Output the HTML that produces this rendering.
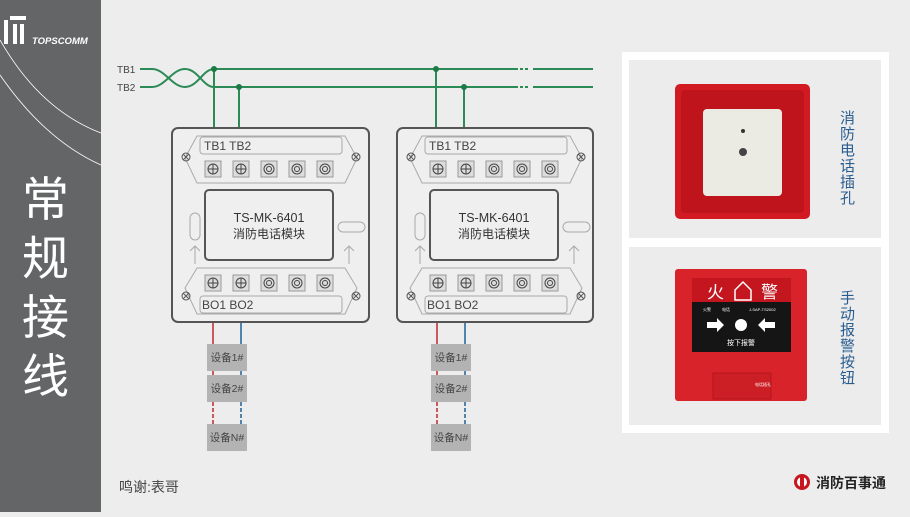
<!DOCTYPE html>
<html><head><meta charset="utf-8"><style>
body{margin:0;width:910px;height:512px;overflow:hidden;background:#ededee;font-family:"Liberation Sans","Noto Sans CJK SC",sans-serif;}
</style></head><body>
<svg width="910" height="512" viewBox="0 0 910 512" xmlns="http://www.w3.org/2000/svg" font-family="Liberation Sans, Noto Sans CJK SC, sans-serif">
<rect width="910" height="512" fill="#ededee"/>
<rect width="101" height="512" fill="#646567"/>
<path d="M0,40 Q40,110 101,133" stroke="#fff" stroke-width="0.8" fill="none"/>
<path d="M0,75 Q45,140 101,165" stroke="#fff" stroke-width="0.8" fill="none"/>
<rect x="4" y="20" width="4" height="24" fill="#fff"/><rect x="10" y="16" width="16" height="4" fill="#fff"/><rect x="13" y="24" width="4" height="20" fill="#fff"/><rect x="20" y="24" width="4" height="20" fill="#fff"/>
<text x="32" y="44" font-size="9.5" fill="#fff" font-weight="bold" font-style="italic">TOPSCOMM</text>
<text font-size="47" fill="#fff" font-family="Noto Sans CJK SC, sans-serif"><tspan x="22" y="216">常</tspan><tspan x="22" y="275">规</tspan><tspan x="22" y="334">接</tspan><tspan x="22" y="393">线</tspan></text>
<text x="117" y="73" font-size="10" fill="#444">TB1</text>
<text x="117" y="91" font-size="10" fill="#444">TB2</text>
<g stroke="#2b8a55" stroke-width="2" fill="none">
<path d="M140,69 H152 C165,69 172,87 185,87 C198,87 203,69 214,69 H518"/>
<path d="M140,87 H152 C165,87 172,69 185,69 C198,69 203,87 214,87 H518"/>
<path d="M533,69 H593 M533,87 H593 M520,69 h3 M525,69 h3 M520,87 h3 M525,87 h3"/>
<path d="M214,69 V128 M239,87 V128 M436,69 V128 M464,87 V128"/>
</g>
<g fill="#1d7a45"><circle cx="214" cy="69" r="3"/><circle cx="239" cy="87" r="3"/><circle cx="436" cy="69" r="3"/><circle cx="464" cy="87" r="3"/></g>

<!-- module 1 -->
<g transform="translate(172,128)">
<rect x="0" y="0" width="197" height="194" rx="6" fill="#efeff0" stroke="#555" stroke-width="2"/>
<polygon points="13,30 25,8 173,8 185,30 173,55 25,55" fill="none" stroke="#aaa"/>
<rect x="28" y="9" width="142" height="17" rx="3" fill="none" stroke="#aaa"/>
<text x="32" y="22" font-size="12" fill="#444">TB1 TB2</text>
<polygon points="13,160 25,140 173,140 185,160 173,186 25,186" fill="none" stroke="#aaa"/>
<rect x="28" y="168" width="142" height="17" rx="3" fill="none" stroke="#aaa"/>
<text x="30" y="181" font-size="12" fill="#444">BO1 BO2</text>
<g stroke="#555" fill="none" stroke-width="1">
<circle cx="14" cy="29" r="4"/><path d="M11,26l6,6M17,26l-6,6"/>
<circle cx="184" cy="29" r="4"/><path d="M181,26l6,6M187,26l-6,6"/>
<circle cx="14" cy="168" r="4"/><path d="M11,165l6,6M17,165l-6,6"/>
<circle cx="184" cy="168" r="4"/><path d="M181,165l6,6M187,165l-6,6"/>
</g>
<g fill="#ddd" stroke="#999">
<rect x="33" y="33" width="16" height="16"/><rect x="61" y="33" width="16" height="16"/><rect x="89" y="33" width="16" height="16"/><rect x="117" y="33" width="16" height="16"/><rect x="145" y="33" width="16" height="16"/>
<rect x="33" y="147" width="16" height="16"/><rect x="61" y="147" width="16" height="16"/><rect x="89" y="147" width="16" height="16"/><rect x="117" y="147" width="16" height="16"/><rect x="145" y="147" width="16" height="16"/>
</g>
<g fill="none" stroke="#444">
<circle cx="41" cy="41" r="5"/><path d="M36,41h10M41,36v10"/><circle cx="69" cy="41" r="5"/><path d="M64,41h10M69,36v10"/>
<circle cx="97" cy="41" r="5"/><circle cx="97" cy="41" r="2.5"/><circle cx="125" cy="41" r="5"/><circle cx="125" cy="41" r="2.5"/><circle cx="153" cy="41" r="5"/><circle cx="153" cy="41" r="2.5"/>
<circle cx="41" cy="155" r="5"/><path d="M36,155h10M41,150v10"/><circle cx="69" cy="155" r="5"/><path d="M64,155h10M69,150v10"/>
<circle cx="97" cy="155" r="5"/><circle cx="97" cy="155" r="2.5"/><circle cx="125" cy="155" r="5"/><circle cx="125" cy="155" r="2.5"/><circle cx="153" cy="155" r="5"/><circle cx="153" cy="155" r="2.5"/>
</g>
<rect x="33" y="62" width="128" height="70" rx="4" fill="#efeff0" stroke="#555" stroke-width="2"/>
<text x="97" y="94" font-size="12.5" fill="#333" text-anchor="middle">TS-MK-6401</text>
<text x="97" y="110" font-size="12" fill="#333" text-anchor="middle">消防电话模块</text>
<rect x="18" y="85" width="10" height="27" rx="5" fill="none" stroke="#aaa"/>
<rect x="166" y="94" width="27" height="10" rx="5" fill="none" stroke="#aaa"/>
<path d="M23,136 v-18 M18,123 l5,-5 l5,5 M177,136 v-18 M172,123 l5,-5 l5,5" stroke="#aaa" fill="none"/>
</g>

<!-- module 2 -->
<g transform="translate(397,128)">
<rect x="0" y="0" width="196" height="194" rx="6" fill="#efeff0" stroke="#555" stroke-width="2"/>
<polygon points="13,30 25,8 173,8 185,30 173,55 25,55" fill="none" stroke="#aaa"/>
<rect x="28" y="9" width="142" height="17" rx="3" fill="none" stroke="#aaa"/>
<text x="32" y="22" font-size="12" fill="#444">TB1 TB2</text>
<polygon points="13,160 25,140 173,140 185,160 173,186 25,186" fill="none" stroke="#aaa"/>
<rect x="28" y="168" width="142" height="17" rx="3" fill="none" stroke="#aaa"/>
<text x="30" y="181" font-size="12" fill="#444">BO1 BO2</text>
<g stroke="#555" fill="none" stroke-width="1">
<circle cx="14" cy="29" r="4"/><path d="M11,26l6,6M17,26l-6,6"/>
<circle cx="184" cy="29" r="4"/><path d="M181,26l6,6M187,26l-6,6"/>
<circle cx="14" cy="168" r="4"/><path d="M11,165l6,6M17,165l-6,6"/>
<circle cx="184" cy="168" r="4"/><path d="M181,165l6,6M187,165l-6,6"/>
</g>
<g fill="#ddd" stroke="#999">
<rect x="33" y="33" width="16" height="16"/><rect x="61" y="33" width="16" height="16"/><rect x="89" y="33" width="16" height="16"/><rect x="117" y="33" width="16" height="16"/><rect x="145" y="33" width="16" height="16"/>
<rect x="33" y="147" width="16" height="16"/><rect x="61" y="147" width="16" height="16"/><rect x="89" y="147" width="16" height="16"/><rect x="117" y="147" width="16" height="16"/><rect x="145" y="147" width="16" height="16"/>
</g>
<g fill="none" stroke="#444">
<circle cx="41" cy="41" r="5"/><path d="M36,41h10M41,36v10"/><circle cx="69" cy="41" r="5"/><path d="M64,41h10M69,36v10"/>
<circle cx="97" cy="41" r="5"/><circle cx="97" cy="41" r="2.5"/><circle cx="125" cy="41" r="5"/><circle cx="125" cy="41" r="2.5"/><circle cx="153" cy="41" r="5"/><circle cx="153" cy="41" r="2.5"/>
<circle cx="41" cy="155" r="5"/><path d="M36,155h10M41,150v10"/><circle cx="69" cy="155" r="5"/><path d="M64,155h10M69,150v10"/>
<circle cx="97" cy="155" r="5"/><circle cx="97" cy="155" r="2.5"/><circle cx="125" cy="155" r="5"/><circle cx="125" cy="155" r="2.5"/><circle cx="153" cy="155" r="5"/><circle cx="153" cy="155" r="2.5"/>
</g>
<rect x="33" y="62" width="128" height="70" rx="4" fill="#efeff0" stroke="#555" stroke-width="2"/>
<text x="97" y="94" font-size="12.5" fill="#333" text-anchor="middle">TS-MK-6401</text>
<text x="97" y="110" font-size="12" fill="#333" text-anchor="middle">消防电话模块</text>
<rect x="18" y="85" width="10" height="27" rx="5" fill="none" stroke="#aaa"/>
<rect x="166" y="94" width="27" height="10" rx="5" fill="none" stroke="#aaa"/>
<path d="M23,136 v-18 M18,123 l5,-5 l5,5 M177,136 v-18 M172,123 l5,-5 l5,5" stroke="#aaa" fill="none"/>
</g>

<!-- device chains -->
<g stroke-width="1.5">
<path d="M213,323 V344 M213,371 V375" stroke="#c0272d"/>
<path d="M241,323 V344 M241,371 V375" stroke="#1f5f99"/>
<path d="M437,323 V344 M437,371 V375" stroke="#c0272d"/>
<path d="M465,323 V344 M465,371 V375" stroke="#1f5f99"/>
<path d="M213,402 V424 M437,402 V424" stroke="#c0272d" stroke-dasharray="4,2"/>
<path d="M241,402 V424 M465,402 V424" stroke="#1f5f99" stroke-dasharray="4,2"/>
</g>
<g fill="#b3b3b4">
<rect x="207" y="344" width="40" height="27"/><rect x="207" y="375" width="40" height="27"/><rect x="207" y="424" width="40" height="27"/>
<rect x="431" y="344" width="40" height="27"/><rect x="431" y="375" width="40" height="27"/><rect x="431" y="424" width="40" height="27"/>
</g>
<g font-size="10.5" fill="#444" text-anchor="middle">
<text x="227" y="361">设备1#</text><text x="227" y="392">设备2#</text><text x="227" y="441">设备N#</text>
<text x="451" y="361">设备1#</text><text x="451" y="392">设备2#</text><text x="451" y="441">设备N#</text>
</g>
<text x="119" y="492" font-size="14" fill="#444">鸣谢:表哥</text>

<!-- right panel -->
<rect x="622" y="52" width="267" height="381" fill="#fff"/>
<rect x="629" y="60" width="252" height="178" fill="#ececed"/>
<rect x="629" y="247" width="252" height="178" fill="#ececed"/>
<rect x="675" y="84" width="135" height="135" rx="5" fill="#d21a22"/>
<rect x="681" y="90" width="123" height="123" rx="4" fill="#c0141c"/>
<rect x="703" y="109" width="79" height="87" rx="4" fill="#ecebe3"/>
<circle cx="743" cy="131" r="2" fill="#333"/><circle cx="743" cy="152" r="4" fill="#444"/>
<rect x="675" y="269" width="132" height="132" rx="3" fill="#d8232a"/>
<rect x="692" y="278" width="99" height="24" fill="#c3161e"/>
<text x="707" y="298" font-size="17" fill="#fff">火</text>
<text x="761" y="298" font-size="17" fill="#fff">警</text>
<path d="M735,300 v-10 l8,-8 l8,8 v10 z" stroke="#fff" fill="none" stroke-width="1.5"/>
<rect x="692" y="302" width="99" height="50" fill="#151515"/>
<text x="703" y="311" font-size="4" fill="#fff">火警</text><text x="722" y="311" font-size="4" fill="#fff">电话</text><text x="749" y="311" font-size="4" fill="#fff">J-SAP-TS2002</text>
<circle cx="741" cy="325" r="6" fill="#fff"/>
<path d="M707,322h10v-4l7,7l-7,7v-4h-10z" fill="#fff"/><path d="M775,322h-10v-4l-7,7l7,7v-4h10z" fill="#fff"/>
<text x="741" y="345" font-size="7" fill="#fff" text-anchor="middle">按下报警</text>
<rect x="713" y="373" width="58" height="26" fill="#cc1e25" stroke="#b5151c"/>
<text x="755" y="386" font-size="4" fill="#fff">电话插孔</text>
<text font-size="15" fill="#2a5d8f" font-family="Noto Sans CJK SC, sans-serif"><tspan x="840" y="123">消</tspan><tspan x="840" y="139">防</tspan><tspan x="840" y="155">电</tspan><tspan x="840" y="171">话</tspan><tspan x="840" y="187">插</tspan><tspan x="840" y="203">孔</tspan></text>
<text font-size="15" fill="#2a5d8f" font-family="Noto Sans CJK SC, sans-serif"><tspan x="840" y="303">手</tspan><tspan x="840" y="319">动</tspan><tspan x="840" y="335">报</tspan><tspan x="840" y="351">警</tspan><tspan x="840" y="367">按</tspan><tspan x="840" y="383">钮</tspan></text>
<circle cx="802" cy="482" r="8" fill="#c8161e"/><circle cx="802" cy="482" r="5" fill="#fff"/><rect x="800" y="477" width="4" height="10" fill="#c8161e"/>
<text x="816" y="488" font-size="14" fill="#222" font-weight="bold">消防百事通</text>
</svg>
</body></html>
